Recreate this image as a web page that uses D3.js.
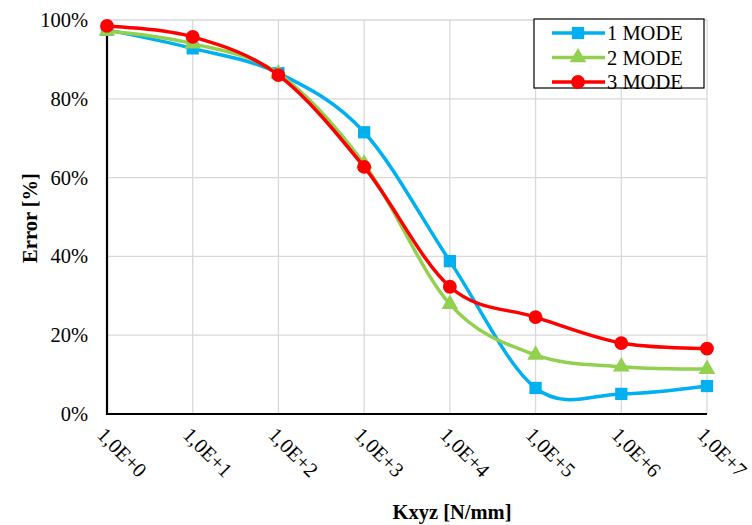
<!DOCTYPE html>
<html>
<head>
<meta charset="utf-8">
<script src="https://cdn.jsdelivr.net/npm/d3@7"></script>
<style>
  body { margin: 0; background: #fff; }
  text { font-family: "Liberation Serif", "Times New Roman", serif; fill: #000; }
</style>
</head>
<body>
<div id="chart"></div>
<script>
var categories = ["1,0E+0", "1,0E+1", "1,0E+2", "1,0E+3", "1,0E+4", "1,0E+5", "1,0E+6", "1,0E+7"];
var mode1 = [97.5, 92.8, 86.5, 71.5, 38.8, 6.6, 5.1, 7.1];
var mode2 = [97.2, 94.0, 86.4, 63.5, 27.9, 15.0, 12.0, 11.4];
var mode3 = [98.5, 95.7, 86.0, 62.7, 32.3, 24.6, 18.0, 16.6];
var yTicks = [0, 20, 40, 60, 80, 100];

var series = [
  { name: "1 MODE", values: mode1, color: "#00B0F0", symbol: d3.symbolSquare },
  { name: "2 MODE", values: mode2, color: "#92D050", symbol: d3.symbolTriangle },
  { name: "3 MODE", values: mode3, color: "#FF0000", symbol: d3.symbolCircle }
];

var width = 752, height = 525;
var m = { left: 107, right: 707, top: 20, bottom: 414 };
var fs = "20.5px";

var svg = d3.select("#chart").append("svg")
    .attr("width", width)
    .attr("height", height);

var x = d3.scalePoint().domain(categories).range([m.left, m.right]);
var y = d3.scaleLinear().domain([0, 100]).range([m.bottom, m.top]);

// grid
svg.append("g").selectAll("line")
    .data(yTicks.slice(1))
  .enter().append("line")
    .attr("x1", m.left).attr("x2", m.right)
    .attr("y1", function(d) { return y(d); })
    .attr("y2", function(d) { return y(d); })
    .attr("stroke", "#d9d9d9").attr("stroke-width", 1.3);

svg.append("g").selectAll("line")
    .data(categories.slice(1))
  .enter().append("line")
    .attr("x1", function(d) { return x(d); })
    .attr("x2", function(d) { return x(d); })
    .attr("y1", m.top).attr("y2", m.bottom)
    .attr("stroke", "#d9d9d9").attr("stroke-width", 1.3);

// axes
svg.append("line")
    .attr("x1", m.left).attr("x2", m.left)
    .attr("y1", m.top).attr("y2", m.bottom + 1)
    .attr("stroke", "#000").attr("stroke-width", 2.2);
svg.append("line")
    .attr("x1", m.left - 1).attr("x2", m.right)
    .attr("y1", m.bottom).attr("y2", m.bottom)
    .attr("stroke", "#000").attr("stroke-width", 2.2);

svg.append("g").selectAll("text")
    .data(yTicks)
  .enter().append("text")
    .attr("x", 88)
    .attr("y", function(d) { return y(d) + 7; })
    .attr("text-anchor", "end")
    .style("font-size", fs)
    .text(function(d) { return d + "%"; });

svg.append("g").selectAll("text")
    .data(categories)
  .enter().append("text")
    .attr("transform", function(d) { return "translate(" + (x(d) - 6) + "," + 431 + ") rotate(45)"; })
    .attr("dy", "0.35em")
    .style("font-size", fs)
    .text(function(d) { return d; });

// titles
svg.append("text")
    .attr("transform", "translate(30,218) rotate(-90)")
    .attr("text-anchor", "middle")
    .attr("dy", "0.35em")
    .style("font-size", fs).style("font-weight", "bold")
    .text("Error [%]");
svg.append("text")
    .attr("x", 452).attr("y", 519)
    .attr("text-anchor", "middle")
    .style("font-size", fs).style("font-weight", "bold")
    .text("Kxyz [N/mm]");

// lines
var line = d3.line()
    .x(function(d, i) { return x(categories[i]); })
    .y(function(d) { return y(d); })
    .curve(d3.curveCardinal.tension(0));

var g = svg.append("g");
series.forEach(function(s) {
  g.append("path")
      .attr("d", line(s.values))
      .attr("fill", "none")
      .attr("stroke", s.color)
      .attr("stroke-width", 3.5);
  g.selectAll(null)
      .data(s.values)
    .enter().append("path")
      .attr("transform", function(d, i) { return "translate(" + x(categories[i]) + "," + y(d) + ")"; })
      .attr("d", d3.symbol().type(s.symbol).size(s.symbol === d3.symbolTriangle ? 120 : 150))
      .attr("fill", s.color);
});

// legend
var legend = svg.append("g").attr("transform", "translate(534,19)");
legend.append("rect")
    .attr("width", 170).attr("height", 69)
    .attr("fill", "#fff").attr("stroke", "#000").attr("stroke-width", 1.2);
series.forEach(function(s, i) {
  var ly = 14 + i * 24.5;
  legend.append("line")
      .attr("x1", 18).attr("x2", 71)
      .attr("y1", ly).attr("y2", ly)
      .attr("stroke", s.color).attr("stroke-width", 3.5);
  legend.append("path")
      .attr("transform", "translate(44," + ly + ")")
      .attr("d", d3.symbol().type(s.symbol).size(s.symbol === d3.symbolTriangle ? 120 : 150))
      .attr("fill", s.color);
  legend.append("text")
      .attr("x", 73).attr("y", ly + 7)
      .style("font-size", fs)
      .text(s.name);
});
</script>
</body>
</html>
